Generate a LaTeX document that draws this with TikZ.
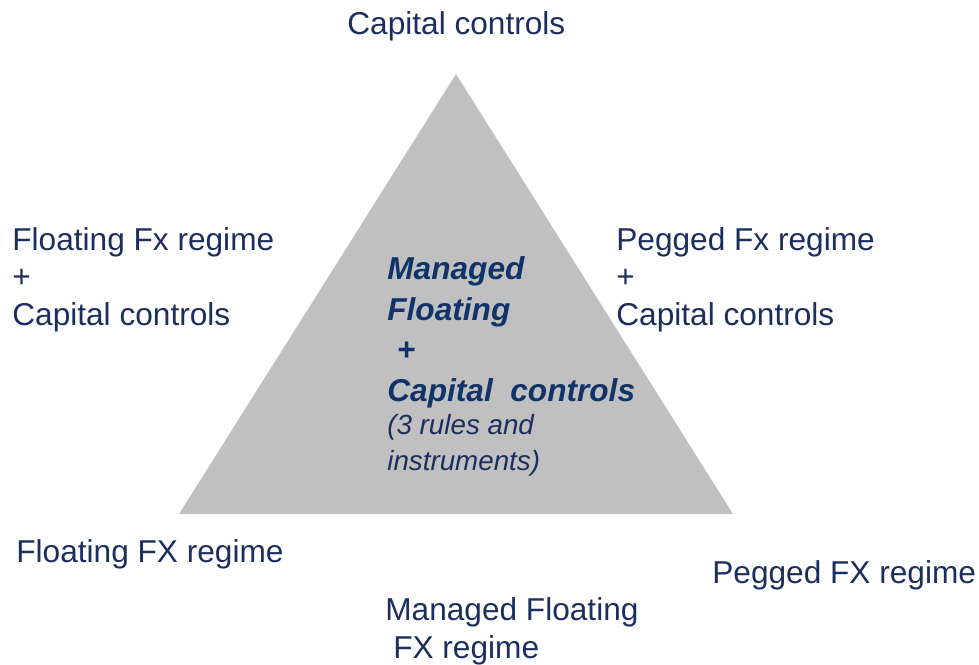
\documentclass[tikz,border=0pt]{standalone}
\usepackage{fontspec}
\setmainfont{Liberation Sans}

\definecolor{navy}{HTML}{1B2E5E}
\definecolor{boldnavy}{HTML}{10336A}
\definecolor{trigray}{HTML}{C0C0C0}

\tikzset{
    lbl/.style={anchor=base west, inner sep=0pt, text=navy, align=left,
        font=\fontsize{18}{21.3}\selectfont},
    mid/.style={anchor=base west, inner sep=0pt, text=boldnavy, align=left,
        font=\fontsize{18}{23}\selectfont\bfseries\itshape},
    note/.style={anchor=base west, inner sep=0pt, text=navy, align=left,
        font=\fontsize{15.8}{20}\selectfont\itshape}
}

\begin{document}
\begin{tikzpicture}[x=0.02cm, y=-0.02cm]
    \useasboundingbox (0, 0) rectangle (979, 664);

    % the triangle
    \coordinate (top) at (456, 74);
    \coordinate (bl) at (179, 514);
    \coordinate (br) at (733, 514);
    \fill[trigray] (top) -- (br) -- (bl) -- cycle;

    % corners and sides (multi-line nodes sit on their last line)
    \node[lbl] (capctl) at (347, 34) {Capital controls};
    \node[lbl] (floatcc) at (12, 325) {Floating Fx regime\\+\\Capital controls};
    \node[lbl] (peggcc) at (616, 325) {Pegged Fx regime\\+\\Capital controls};
    \node[lbl] (floatfx) at (16, 562) {Floating FX regime};
    \node[lbl] (peggfx) at (712, 583) {Pegged FX regime};
    \node[lbl] (managfx) at (385, 658) {Managed Floating\\\hspace*{0.25em}FX regime};

    % middle of the triangle
    \node[mid] (middle) at (387, 401) {Managed\\Floating\\\hspace*{0.3em}+\\Capital\ \ controls};
    \node[note] (rules) at (387, 470) {(3 rules and\\instruments)};
\end{tikzpicture}
\end{document}
